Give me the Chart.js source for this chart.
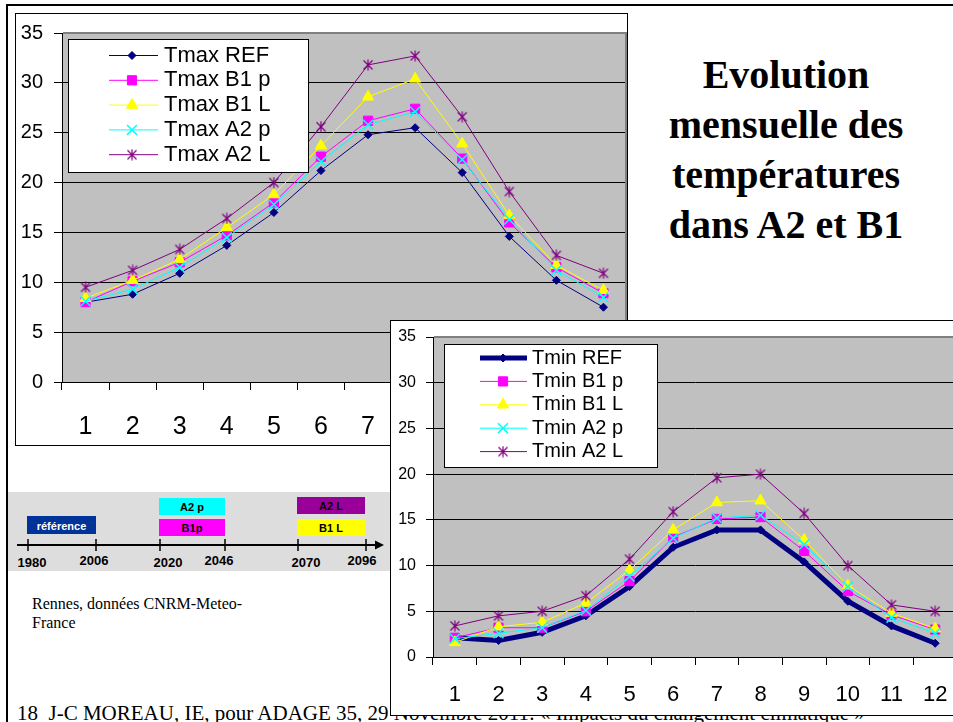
<!DOCTYPE html>
<html><head><meta charset="utf-8">
<script src="https://cdn.jsdelivr.net/npm/chart.js@4.4.1/dist/chart.umd.min.js"></script>
<style>
html,body{margin:0;padding:0;}
body{width:953px;height:722px;overflow:hidden;position:relative;background:#fff;font-family:"Liberation Sans",Arial,sans-serif;}
.abs{position:absolute;}
#outer{left:6px;top:4px;width:1000px;height:800px;border-left:2px solid #000;border-top:2px solid #000;}
#title{left:627px;top:50px;width:318px;text-align:center;font:bold 40px/50px "Liberation Serif","Times New Roman",serif;color:#000;}
#topFrame{left:15px;top:13px;width:611px;height:431px;border:1px solid #000;background:#fff;}
#botFrame{left:390px;top:320px;width:620px;height:394px;border:1px solid #000;background:#fff;z-index:5;}
canvas{position:absolute;left:0;top:0;}
#rennes{left:32px;top:594px;font:16px/19px "Liberation Serif","Times New Roman",serif;}
#footer{left:17px;top:701px;font:21px/24px "Liberation Serif","Times New Roman",serif;white-space:nowrap;}
#timeline{left:0;top:480px;}
</style></head>
<body>
<div id="outer" class="abs"></div>
<div id="title" class="abs">Evolution<br>mensuelle des<br>températures<br>dans A2 et B1</div>
<div id="topFrame" class="abs"><canvas id="cTop" width="611" height="431"></canvas></div>
<svg id="timeline" class="abs" width="400" height="100" xmlns="http://www.w3.org/2000/svg" font-family="Liberation Sans, Arial, sans-serif" font-weight="bold">
  <rect x="8" y="12" width="385" height="79" fill="#dddddd"/>
  <rect x="27" y="36" width="69" height="18" fill="#003399"/>
  <text x="61.5" y="45.5" font-size="11" fill="#fff" text-anchor="middle" dominant-baseline="central">référence</text>
  <rect x="159" y="18" width="66" height="17" fill="#00ffff"/>
  <text x="192" y="26.5" font-size="11" fill="#000" text-anchor="middle" dominant-baseline="central">A2 p</text>
  <rect x="159" y="39" width="66" height="17" fill="#ff00ff"/>
  <text x="192" y="47.5" font-size="11" fill="#000" text-anchor="middle" dominant-baseline="central">B1p</text>
  <rect x="297" y="17" width="68" height="17" fill="#990099"/>
  <text x="331" y="25.5" font-size="11" fill="#000" text-anchor="middle" dominant-baseline="central">A2 L</text>
  <rect x="297" y="39" width="68" height="17" fill="#ffff00"/>
  <text x="331" y="47.5" font-size="11" fill="#000" text-anchor="middle" dominant-baseline="central">B1 L</text>
  <line x1="17" y1="65" x2="377" y2="65" stroke="#000" stroke-width="2"/>
  <polygon points="375,60.5 384,65 375,69.5" fill="#000"/>
  <g stroke="#000" stroke-width="1.5">
    <line x1="28" y1="59" x2="28" y2="71"/>
    <line x1="96" y1="59" x2="96" y2="71"/>
    <line x1="160" y1="59" x2="160" y2="71"/>
    <line x1="225" y1="59" x2="225" y2="71"/>
    <line x1="298" y1="59" x2="298" y2="71"/>
    <line x1="366" y1="59" x2="366" y2="71"/>
  </g>
  <g font-size="13" fill="#000" text-anchor="middle">
    <text x="32" y="87">1980</text>
    <text x="94" y="85">2006</text>
    <text x="168" y="87">2020</text>
    <text x="219" y="85">2046</text>
    <text x="306" y="87">2070</text>
    <text x="362" y="85">2096</text>
  </g>
</svg>
<div id="rennes" class="abs">Rennes, données CNRM-Meteo-<br>France</div>
<div id="footer" class="abs">18&nbsp; J-C MOREAU, IE, pour ADAGE 35, 29 Novembre 2011: « Impacts du changement climatique »</div>
<div id="botFrame" class="abs"><canvas id="cBot" width="566" height="394"></canvas></div>
<script>
// ---- data ----
const months = ['1','2','3','4','5','6','7','8','9','10','11','12'];
const namesMax = ['Tmax REF','Tmax B1 p','Tmax B1 L','Tmax A2 p','Tmax A2 L'];
const namesMin = ['Tmin REF','Tmin B1 p','Tmin B1 L','Tmin A2 p','Tmin A2 L'];
const tmaxRef = [8.0, 8.8, 10.9, 13.7, 17.0, 21.2, 24.8, 25.5, 21.0, 14.6, 10.2, 7.5];
const tmaxB1p = [8.0, 10.1, 12.0, 14.7, 18.0, 22.6, 26.2, 27.4, 22.4, 16.0, 11.5, 8.9];
const tmaxB1L = [8.4, 10.2, 12.3, 15.5, 18.8, 23.7, 28.6, 30.4, 23.9, 16.7, 11.7, 9.2];
const tmaxA2p = [8.1, 9.3, 11.5, 14.5, 17.8, 22.1, 25.8, 27.1, 22.3, 16.3, 11.2, 8.5];
const tmaxA2L = [9.5, 11.2, 13.3, 16.4, 20.0, 25.6, 31.8, 32.7, 26.6, 19.1, 12.7, 10.9];
const tminRef = [2.1, 1.8, 2.7, 4.5, 7.7, 12.0, 13.9, 13.9, 10.4, 6.1, 3.4, 1.5];
const tminB1p = [2.1, 3.2, 3.2, 5.0, 8.3, 13.1, 15.1, 15.3, 11.6, 7.2, 4.6, 3.0];
const tminB1L = [1.6, 3.3, 3.8, 5.9, 9.5, 13.9, 16.9, 17.1, 12.8, 7.8, 4.8, 3.1];
const tminA2p = [2.0, 2.6, 3.2, 5.1, 8.8, 13.0, 15.2, 15.5, 12.3, 7.7, 4.3, 2.6];
const tminA2L = [3.4, 4.5, 5.0, 6.7, 10.7, 15.9, 19.6, 20.0, 15.7, 10.0, 5.7, 5.0];
const yMin = 0, yMax = 35, yStep = 5;

// ---- styles ----
function asterisk(color){
  const c=document.createElement('canvas'); c.width=12; c.height=12;
  const g=c.getContext('2d'); g.strokeStyle=color; g.lineWidth=1.2;
  g.beginPath(); g.moveTo(1.5,1.5); g.lineTo(10.5,10.5); g.moveTo(10.5,1.5); g.lineTo(1.5,10.5);
  g.moveTo(6,0.5); g.lineTo(6,11.5); g.stroke(); return c;
}
function styles(refWidth){
  return [
    {color:'#000080', lw:refWidth, ps:'rectRot', r:4, pbw:1},
    {color:'#FF00FF', lw:1, ps:'rect', r:6.5, pbw:1},
    {color:'#FFFF00', lw:1, ps:'triangle', r:6.5, pbw:1},
    {color:'#00FFFF', lw:1, ps:'crossRot', r:7, pbw:1.5},
    {color:'#800080', lw:1, ps:asterisk('#800080'), r:6, pbw:1}
  ];
}

const plotBg = {
  id:'plotBg',
  beforeDraw(chart){
    const {ctx, chartArea:a} = chart;
    ctx.save(); ctx.fillStyle='#c0c0c0';
    ctx.fillRect(a.left, a.top, a.right-a.left, a.bottom-a.top); ctx.restore();
  },
  beforeDatasetsDraw(chart){
    const {ctx, chartArea:a} = chart;
    ctx.save(); ctx.strokeStyle='#808080'; ctx.lineWidth=2;
    ctx.beginPath(); ctx.moveTo(a.left+1, a.top); ctx.lineTo(a.right-1, a.top); ctx.lineTo(a.right-1, a.bottom-1); ctx.stroke();
    ctx.restore();
  }
};
const boxLegend = {
  id:'boxLegend',
  afterDatasetsDraw(chart, args, o){
    const ctx = chart.ctx;
    ctx.save();
    ctx.fillStyle='#fff'; ctx.fillRect(o.x, o.y, o.w, o.h);
    ctx.strokeStyle='#000'; ctx.lineWidth=1; ctx.strokeRect(o.x+0.5, o.y+0.5, o.w-1, o.h-1);
    chart.data.datasets.forEach((ds,i)=>{
      const y = o.rows[i];
      ctx.strokeStyle = ds.borderColor; ctx.lineWidth = ds.borderWidth;
      ctx.beginPath(); ctx.moveTo(o.lx1, y); ctx.lineTo(o.lx2, y); ctx.stroke();
      ctx.fillStyle = ds.pointBackgroundColor; ctx.strokeStyle = ds.pointBorderColor; ctx.lineWidth = ds.pointBorderWidth;
      Chart.helpers.drawPoint(ctx, {pointStyle: ds.pointStyle, radius: ds.pointRadius, rotation:0, borderWidth: ds.pointBorderWidth}, o.mx, y);
      ctx.fillStyle='#000'; ctx.font = o.font; ctx.textBaseline='middle'; ctx.textAlign='left';
      ctx.fillText(ds.label, o.tx, y);
    });
    ctx.restore();
  }
};

function buildChart(id, names, values, st, g){
  const datasets = names.map((n,i)=>({
    label:n, data:values[i],
    borderColor:st[i].color, backgroundColor:st[i].color, borderWidth:st[i].lw,
    pointStyle:st[i].ps, pointRadius:st[i].r, pointHoverRadius:st[i].r,
    pointBackgroundColor:st[i].color, pointBorderColor:st[i].color, pointBorderWidth:st[i].pbw,
    tension:0, order:names.length-i
  }));
  return new Chart(document.getElementById(id), {
    type:'line',
    data:{labels:months, datasets},
    plugins:[plotBg, boxLegend],
    options:{
      responsive:false, animation:false, devicePixelRatio:1,
      layout:{autoPadding:false, padding:{top:g.padTop, right:0, left:0, bottom:0}},
      plugins:{legend:{display:false}, tooltip:{enabled:false}, boxLegend:g.legend},
      scales:{
        x:{type:'category', offset:true,
           grid:{display:true, drawOnChartArea:false, drawTicks:true, tickLength:g.xTick, color:'#000', lineWidth:1, offset:true},
           border:{display:true, color:'#000', width:1},
           ticks:{color:'#000', font:{family:'"Liberation Sans", Arial, sans-serif', size:g.xFont, lineHeight:g.xLH}, padding:0, maxRotation:0, autoSkip:false},
           afterFit(s){ s.height = g.xH; s.paddingLeft = 0; s.paddingRight = 0; }},
        y:{min:yMin, max:yMax,
           ticks:{stepSize:yStep, color:'#000', font:{family:'"Liberation Sans", Arial, sans-serif', size:g.yFont}, padding:g.yPad},
           grid:{color:'#000', lineWidth:1, drawTicks:true, tickLength:g.yTick},
           border:{display:true, color:'#000', width:1},
           afterFit(s){ s.width = g.yW; s.paddingTop = 0; s.paddingBottom = 0; }}
      }
    }
  });
}

buildChart('cTop', namesMax, [tmaxRef, tmaxB1p, tmaxB1L, tmaxA2p, tmaxA2L], styles(1), {
  padTop:19, xH:63, yW:46, xTick:8, yTick:8, xFont:25, xLH:'74px', yFont:20, yPad:11,
  legend:{x:52, y:25, w:241, h:134, rows:[41.5,66.3,91.1,115.9,140.7], lx1:93, lx2:142, mx:116, tx:148,
          font:'22px "Liberation Sans", Arial, sans-serif'}
});
buildChart('cBot', namesMin, [tminRef, tminB1p, tminB1L, tminA2p, tminA2L], styles(5), {
  padTop:16, xH:58, yW:42, xTick:8, yTick:7, xFont:22, xLH:'60px', yFont:16, yPad:10,
  legend:{x:53, y:23, w:214, h:124, rows:[37,60.4,83.8,107.2,130.6], lx1:89, lx2:136, mx:112, tx:141,
          font:'20px "Liberation Sans", Arial, sans-serif'}
});
</script>
</body></html>
